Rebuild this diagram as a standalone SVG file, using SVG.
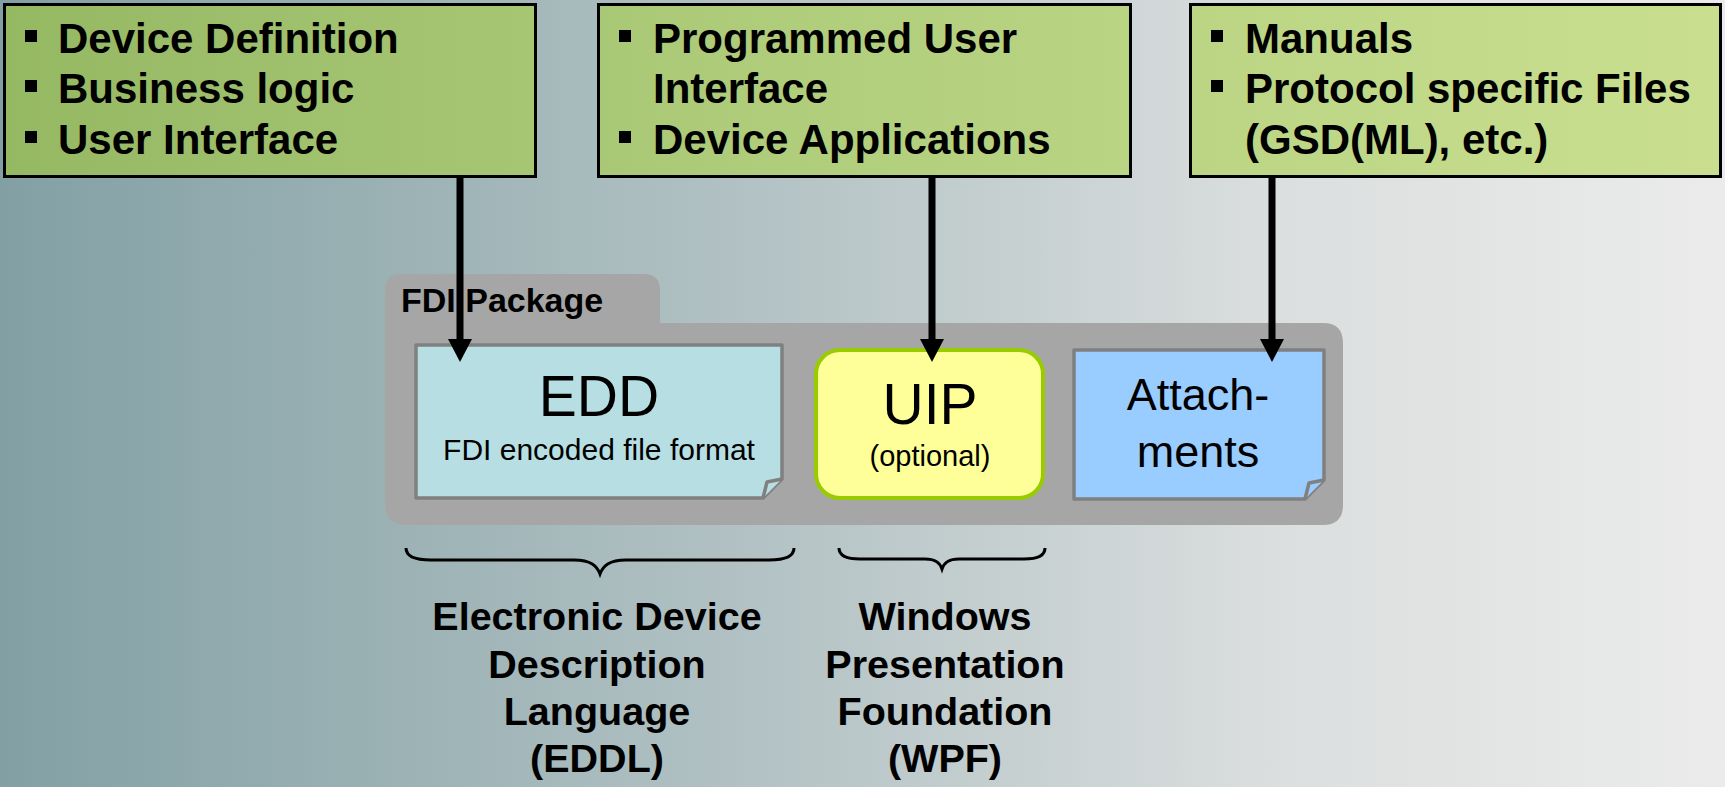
<svg xmlns="http://www.w3.org/2000/svg" width="1725" height="787" viewBox="0 0 1725 787">
  <defs>
    <linearGradient id="bg" x1="0" y1="0" x2="1725" y2="0" gradientUnits="userSpaceOnUse">
      <stop offset="0" stop-color="#82A0A4"/>
      <stop offset="0.45" stop-color="#B4C3C5"/>
      <stop offset="0.75" stop-color="#DCDFDF"/>
      <stop offset="1" stop-color="#EBEBEB"/>
    </linearGradient>
    <linearGradient id="note" x1="0" y1="0" x2="1725" y2="0" gradientUnits="userSpaceOnUse">
      <stop offset="0" stop-color="#95B863"/>
      <stop offset="0.5" stop-color="#B2CF7E"/>
      <stop offset="1" stop-color="#C9DF8F"/>
    </linearGradient>
    <!-- arrowhead: base at the line end, tip 23px further on -->
    <marker id="arrow" viewBox="0 0 23 24" refX="0" refY="12" markerWidth="23" markerHeight="24" markerUnits="userSpaceOnUse" orient="auto">
      <path d="M0,0 L23,12 L0,24 Z" fill="#000"/>
    </marker>
    <style>
      text { font-family: "Liberation Sans", Arial, sans-serif; fill: #000; }
      .note { fill: url(#note); stroke: #000; stroke-width: 3; }
      .bullet { fill: #000; }
      .ntext { font-size: 42px; font-weight: bold; }
      .pkg { fill: #A6A6A6; }
      .doc { stroke: #808080; stroke-width: 3.5; stroke-linejoin: round; }
      .title { font-size: 57px; text-anchor: middle; }
      .sub { font-size: 29px; text-anchor: middle; }
      .brace { fill: none; stroke: #000; stroke-width: 3; }
      .label { font-size: 39.5px; font-weight: bold; text-anchor: middle; }
      .conn { stroke: #000; stroke-width: 7; fill: none; }
    </style>
  </defs>

  <rect x="0" y="0" width="1725" height="787" fill="url(#bg)"/>

  <!-- top note boxes -->
  <g id="note-edd">
    <rect class="note" x="4.5" y="4.5" width="531" height="172"/>
    <rect class="bullet" x="25" y="30" width="12" height="12"/>
    <rect class="bullet" x="25" y="80" width="12" height="12"/>
    <rect class="bullet" x="25" y="131" width="12" height="12"/>
    <text class="ntext" x="58" y="53">Device Definition</text>
    <text class="ntext" x="58" y="103">Business logic</text>
    <text class="ntext" x="58" y="154">User Interface</text>
  </g>

  <g id="note-uip">
    <rect class="note" x="598.5" y="4.5" width="532" height="172"/>
    <rect class="bullet" x="619" y="30" width="12" height="12"/>
    <rect class="bullet" x="619" y="131" width="12" height="12"/>
    <text class="ntext" x="653" y="53">Programmed User</text>
    <text class="ntext" x="653" y="103">Interface</text>
    <text class="ntext" x="653" y="154">Device Applications</text>
  </g>

  <g id="note-attachments">
    <rect class="note" x="1190.5" y="4.5" width="530" height="172"/>
    <rect class="bullet" x="1211" y="30" width="12" height="12"/>
    <rect class="bullet" x="1211" y="80" width="12" height="12"/>
    <text class="ntext" x="1245" y="53">Manuals</text>
    <text class="ntext" x="1245" y="103">Protocol specific Files</text>
    <text class="ntext" x="1245" y="154">(GSD(ML), etc.)</text>
  </g>

  <!-- FDI package folder -->
  <g id="fdi-package">
    <path class="pkg" d="M385,290 Q385,274 401,274 H644 Q660,274 660,290 V323 H1323 Q1343,323 1343,343 V505 Q1343,525 1323,525 H407 Q385,525 385,503 Z"/>
    <text x="401" y="312" font-size="34" font-weight="bold">FDI Package</text>
  </g>

  <g id="edd">
    <path class="doc" fill="#B7DFE3" d="M416,345 H782 V479 L763,498 H416 Z"/>
    <path class="doc" fill="#B7DFE3" d="M763,498 L767,482 L782,479"/>
    <text class="title" x="599" y="416">EDD</text>
    <text x="599" y="460" font-size="30" text-anchor="middle">FDI encoded file format</text>
  </g>

  <g id="uip">
    <rect x="816" y="350" width="227" height="148" rx="24" fill="#FFFF99" stroke="#99CC00" stroke-width="4"/>
    <text class="title" x="930" y="424">UIP</text>
    <text class="sub" x="930" y="466">(optional)</text>
  </g>

  <g id="attachments">
    <path class="doc" fill="#99CCFF" d="M1074,350 H1324 V480 L1305,499 H1074 Z"/>
    <path class="doc" fill="#99CCFF" d="M1305,499 L1309,483 L1324,480"/>
    <text x="1198" y="410" font-size="45" text-anchor="middle">Attach-</text>
    <text x="1198" y="467" font-size="45" text-anchor="middle">ments</text>
  </g>

  <!-- braces and their labels -->
  <g id="eddl">
    <path class="brace" d="M406,548 C406,556 413,560 431,560 H574 C591,560 597,566 600,574 C603,566 609,560 626,560 H769 C787,560 794,556 794,548"/>
    <text class="label" x="597" y="630">Electronic Device</text>
    <text class="label" x="597" y="678">Description</text>
    <text class="label" x="597" y="725">Language</text>
    <text class="label" x="597" y="772">(EDDL)</text>
  </g>

  <g id="wpf">
    <path class="brace" d="M839,548 C839,555 845,559 860,559 H925 C936,559 940,563 942,569 C944,563 948,559 959,559 H1024 C1039,559 1045,555 1045,548"/>
    <text class="label" x="945" y="630">Windows</text>
    <text class="label" x="945" y="678">Presentation</text>
    <text class="label" x="945" y="725">Foundation</text>
    <text class="label" x="945" y="772">(WPF)</text>
  </g>

  <!-- connectors -->
  <g id="connectors">
    <line class="conn" x1="460" y1="178" x2="460" y2="339" marker-end="url(#arrow)"/>
    <line class="conn" x1="932" y1="178" x2="932" y2="339" marker-end="url(#arrow)"/>
    <line class="conn" x1="1272" y1="178" x2="1272" y2="339" marker-end="url(#arrow)"/>
  </g>
</svg>
